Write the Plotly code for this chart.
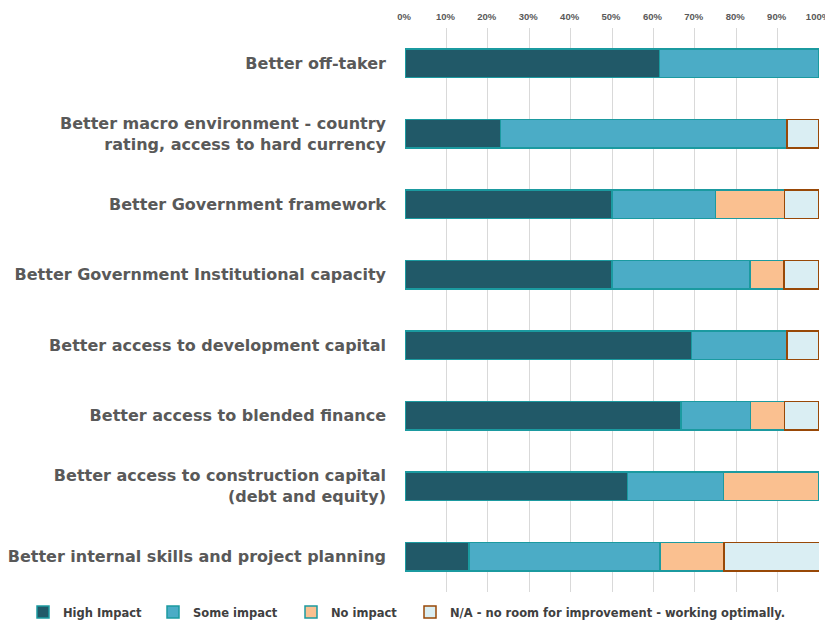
import plotly.graph_objects as go

categories = [
    "Better off-taker",
    "Better macro environment - country<br>rating, access to hard currency",
    "Better Government framework",
    "Better Government Institutional capacity",
    "Better access to development capital",
    "Better access to blended finance",
    "Better access to construction capital<br>(debt and equity)",
    "Better internal skills and project planning",
]
high_impact = [61.5, 23.1, 50.0, 50.0, 69.2, 66.7, 53.8, 15.4]
some_impact = [38.5, 69.2, 25.0, 33.3, 23.1, 16.7, 23.1, 46.2]
no_impact = [0, 0, 16.7, 8.3, 0, 8.3, 23.1, 15.4]
na_impact = [0, 7.7, 8.3, 8.3, 7.7, 8.3, 0, 23.1]
tick_values = [0, 10, 20, 30, 40, 50, 60, 70, 80, 90, 100]

series = [
    ("High Impact", high_impact, "#215968", "#1B9AA0"),
    ("Some impact", some_impact, "#4BACC6", "#1B9AA0"),
    ("No impact", no_impact, "#FAC090", "#1B9AA0"),
    ("N/A - no room for improvement - working optimally.", na_impact, "#DAEEF3", "#984807"),
]

FONT = "DejaVu Sans"
W, H = 825, 612
ML, MR, MT, MB = 397, 14, 20, 28
PW = W - ML - MR
PH = H - MT - MB

labels = ["<b>%s</b>" % c for c in categories]
legend_text_x = [63, 193, 331, 450]  # page positions of legend text starts

fig = go.Figure()
layout_legends = {}
for i, (name, vals, fill, line) in enumerate(series):
    lname = "legend" if i == 0 else "legend%d" % (i + 1)
    fig.add_trace(go.Bar(
        y=labels,
        x=[v if v else None for v in vals],
        name="<b>%s</b>" % name,
        orientation="h",
        marker=dict(color=fill, line=dict(color=line, width=1.5)),
        width=0.4,
        legend=lname,
    ))
    left_fig = legend_text_x[i] - 8 - 40
    layout_legends[lname] = dict(
        orientation="h",
        xref="container", yref="container",
        x=left_fig / W, xanchor="left",
        y=1 - 604 / H,
        yanchor="middle",
        font=dict(size=11.5, color="#404040", family=FONT),
        itemwidth=30,
        bgcolor="rgba(0,0,0,0)",
    )

fig.update_layout(
    barmode="stack",
    width=W, height=H,
    margin=dict(l=ML, r=MR, t=MT, b=MB, autoexpand=False),
    plot_bgcolor="white",
    paper_bgcolor="white",
    font=dict(family=FONT, color="#595959"),
    showlegend=True,
    **layout_legends,
)
fig.update_xaxes(
    side="top",
    range=[0, 100],
    tickvals=tick_values,
    ticktext=["<b>%d%%</b>" % v for v in tick_values],
    showgrid=True,
    gridcolor="#D9D9D9",
    gridwidth=1,
    zeroline=False,
    showline=False,
    tickfont=dict(size=9.5, color="#595959", family="Liberation Sans"),
    ticklabelstandoff=5,
    ticklabelshift=-1,
    ticklabeloverflow="allow",
    automargin=False,
    fixedrange=True,
)
fig.update_yaxes(
    autorange="reversed",
    tickfont=dict(size=16, color="#595959", family=FONT),
    showgrid=False,
    ticklabelstandoff=18,
    automargin=False,
)

fig.write_html("out.html")
